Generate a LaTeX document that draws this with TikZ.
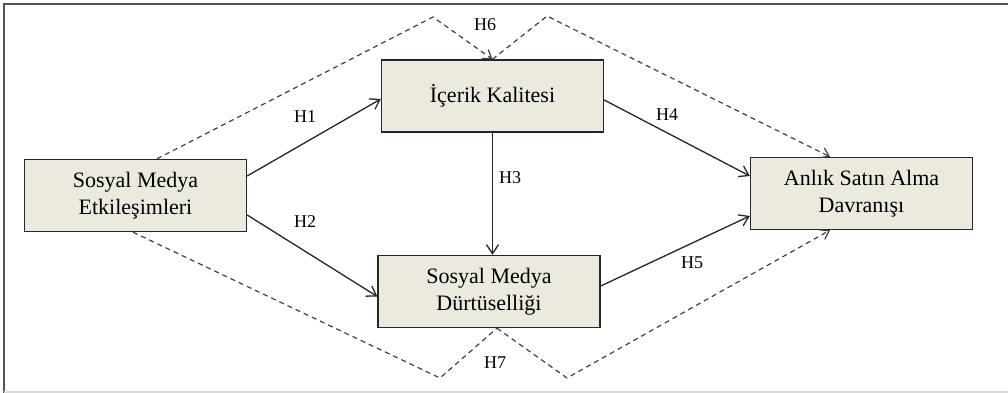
\documentclass[tikz,border=0pt]{standalone}
\usepackage{fontspec}
\setmainfont{Liberation Serif}
\usetikzlibrary{arrows.meta,calc}
\definecolor{boxfill}{RGB}{236,233,223}
\definecolor{framegray}{RGB}{85,85,85}
\begin{document}
\begin{tikzpicture}[x=1pt,y=-1pt,
  box/.style={draw=black!85, line width=1.4pt, fill=boxfill, minimum width=222pt, minimum height=72pt, inner sep=0pt, align=center, font=\fontsize{22}{27}\selectfont},
  link/.style={line width=1.3pt, draw=black!85, -{Straight Barb[length=9pt,width=12pt]}},
  dlink/.style={line width=1.2pt, draw=black!75, dash pattern=on 5pt off 4pt},
  dtip/.style={-{Straight Barb[length=8pt,width=11pt]}},
  lbl/.style={font=\fontsize{18}{20}\selectfont, inner sep=0pt}]
\useasboundingbox (0,0) rectangle (1008,393);
\fill[white] (0,0) rectangle (1008,393);
\draw[framegray, line width=2pt] (4,393) -- (4,4) -- (1008,4);
\draw[black!15, line width=1.5pt] (4,392) -- (1008,392);

\node[box] (sme) at (135.5,195.5) {Sosyal Medya\\Etkileşimleri};
\node[box] (ik) at (492.5,96) {İçerik Kalitesi};
\node[box] (smd) at (489,291.5) {Sosyal Medya\\Dürtüselliği};
\node[box] (asad) at (861.5,193.5) {Anlık Satın Alma\\Davranışı};

\coordinate (p1) at (433,17);
\coordinate (p2) at (547,16);
\coordinate (p3) at (440,378);
\coordinate (p4) at (567,378);

\draw[link] ([yshift=19.5pt]sme.east) -- ([yshift=-3pt]ik.west);
\draw[link] ([yshift=-19.5pt]sme.east) -- ([yshift=-5pt]smd.west);
\draw[link] (ik.south) -- (ik.south |- smd.north);
\draw[link] ([yshift=-4pt]ik.east) -- ([yshift=17.5pt]asad.west);
\draw[link] ([yshift=5.5pt]smd.east) -- ([yshift=-22.5pt]asad.west);

\draw[dlink,dtip] ([xshift=21.5pt]sme.north) -- (p1) -- (ik.north);
\draw[dlink,dtip] (ik.north) -- (p2) -- ([xshift=-31.5pt]asad.north);
\draw[dlink] ([xshift=-2.5pt]sme.south) -- (p3) -- ([xshift=8pt]smd.south);
\draw[dlink,dtip] ([xshift=8pt]smd.south) -- (p4) -- ([xshift=-31.5pt]asad.south);

\node[lbl] (h1) at (305,117) {H1};
\node[lbl] (h2) at (305,222) {H2};
\node[lbl] (h3) at (510,178) {H3};
\node[lbl] (h4) at (667,115) {H4};
\node[lbl] (h5) at (692,263) {H5};
\node[lbl] (h6) at (485,25) {H6};
\node[lbl] (h7) at (495,363) {H7};
\end{tikzpicture}
\end{document}
